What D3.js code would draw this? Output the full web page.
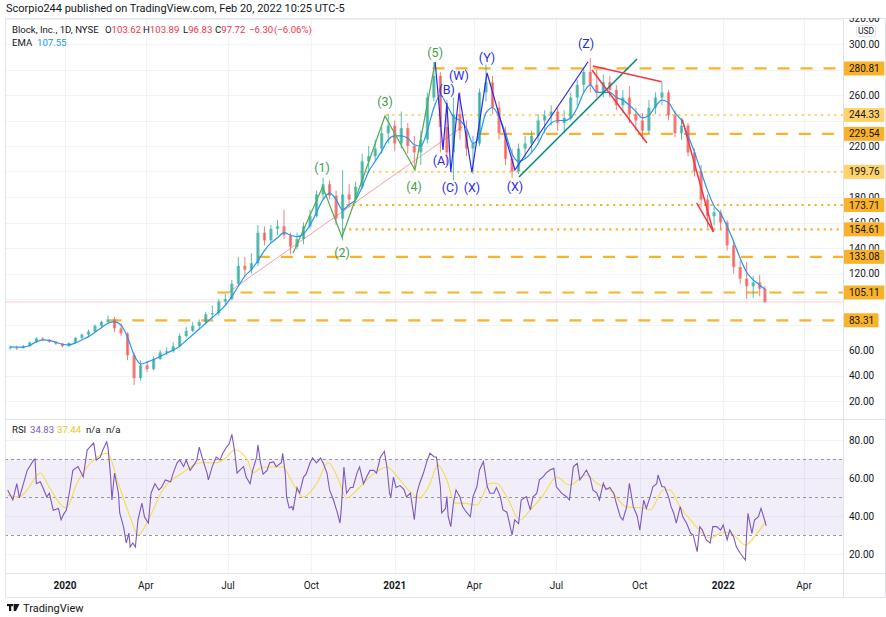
<!DOCTYPE html>
<html><head><meta charset="utf-8">
<script src="https://cdn.jsdelivr.net/npm/d3@7/dist/d3.min.js"></script>
<style>html,body{margin:0;padding:0;background:#fff;}svg{display:block;}</style>
</head><body>
<svg id="chart" width="886" height="617"></svg>
<script>
// ---------- DATA (weekly groups of 5 daily bars, bar 0 = 29 Oct 2019) ----------
const barsPerGroup = 5;
const ohlc = [
[62,63.5,60.5,62],[62,63.5,60,61.5],[61.5,64,61,63],[63,66.5,62.5,66],[66,70,65.5,69],
[69,70,67,68],[68,68.5,65.5,66.5],[66.5,67,64,65],[65,65.5,62,63],[63,66,62.5,65.5],
[65.5,70,65,69.5],[69.5,73,68.5,72],[72,76,71,74.5],[74.5,80,74,79],[79,83,78,82],
[82,87,80.5,84],[84,86,74,77],[77,81,71,73],[73,74,52,56],[56,58,32.5,38],
[38,52,36,48],[48,51,43,45],[45,55,44,53],[53,60,52,58],[58,62,56,59],
[59,66,58,63],[63,73,62,71],[71,78,70,75],[75,82,74,79],[79,84,77,82],
[82,90,81,88],[88,95,85,89],[89,100,87,98],[98,104,95,100],[100,115,99,112],
[112,133,110,126],[126,133,118,123],[123,136,120,128],[128,158,126,152],[152,157,142,146],
[146,158,144,155],[155,162,150,157],[157,170,147,150],[150,152,135,141],[141,152,139,147],
[147,160,143,157],[157,170,155,165],[165,185,164,182],[182,195,178,190],[190,193,178,181],
[181,185,158,163],[163,201,146,182],[182,190,172,178],[178,192,175,188],[188,214,186,208],
[208,220,200,212],[212,225,208,218],[218,235,214,230],[230,245,222,236],[236,240,216,222],
[222,247,218,234],[234,238,214,220],[220,228,201,215],[215,232,205,225],[225,262,222,258],
[258,286,255,275],[275,278,215,235],[235,256,205,215],[215,258,193,245],[245,262,225,232],
[232,240,212,218],[218,228,198,222],[222,265,220,262],[262,284,255,270],[270,275,245,250],
[250,255,225,230],[230,235,205,210],[210,218,195,200],[200,222,198,218],[218,228,210,222],
[222,232,215,228],[228,245,224,240],[240,248,230,244],[244,252,236,247],[247,250,232,238],
[238,248,230,242],[242,262,240,258],[258,272,252,268],[268,282,262,278],[278,289,262,268],
[268,280,258,262],[262,276,258,270],[270,275,258,264],[264,268,248,252],[252,264,246,258],
[258,267,238,245],[245,250,232,240],[240,246,225,232],[232,256,230,250],[250,262,245,258],
[258,270,252,262],[262,264,240,244],[244,248,227,230],[230,242,225,236],[236,238,212,215],
[215,218,196,200],[200,205,172,178],[178,182,156,165],[165,172,158,168],[168,170,155,160],
[160,162,138,142],[142,145,120,125],[125,130,112,116],[116,129,100,110],[110,118,101,113],
[113,119,102,108],[108,110,96.83,97.72]
];
const emaValues = [
62.5,62.2,62.3,63.5,66.5,68,67.5,66,64.5,64,65.5,68,70.5,74,77.5,81,82,79.5,70,56,
49,50.5,52.5,55,57.5,60,63,67.5,72,76.5,81,85.5,90,95,102,110,118,123,130,138,
144,148,152,150,149,151,158,168,178,183,178,170,174,178,188,200,208,216,225,228,
228,226,221,220,232,250,260,252,243,240,234,222,228,246,250,243,230,214,208,210,
215,222,232,238,240,240,242,250,262,268,262,262,262,258,256,252,247,242,244,251,
256,254,246,240,228,215,200,185,173,167,157,145,132,121,115,111,107.55
];
const rsiBars = [0,4,7,9,15,20,21,22,25,27,30,32,35,39,41,43,45,48,50,54,58,61,63,66,68,71,73,76,77,79,80,82,85,86,89,91,93,94,96,98,100,103,105,108,110,113,116,118,121,125,127,130,132,135,137,140,142,145,147,150,153,154,157,160,163,165,168,170,172,174,176,178,181,183,186,188,191,192,194,196,199,201,204,206,210,211,213,214,216,218,219,222,224,227,229,232,234,237,240,242,245,247,250,253,255,256,258,260,263,265,268,270,273,275,278,281,283,286,288,289,291,293,294,296,298,301,304,306,309,311,312,314,316,319,322,324,327,329,332,333,336,337,338,340,342,344,347,349,352,355,357,360,362,365,368,370,373,375,378,380,383,385,387,389,392,394,398,401,403,406,408,411,413,416,419,421,425,429,431,434,437,439,442,444,447,449,452,454,457,459,462,465,467,470,472,475,477,480,483,485,488,490,493,495,498,499,502,504,507,509,511,513,516,518,521,524,526,529,531,533,536,539,541,544,547,549,552,554,557,559,562,566,567,568,571,573,576,578,580,582];
const rsiValues = [53.7,48.4,57,49.5,64,69.5,70,57,58,55,50,52,43,44,38,41,43,55,64,66,60.5,74.7,76.3,78.4,69.5,71,74.7,79,76,60.5,48.4,62.6,52,41.6,34,25.8,31,23.7,25.8,23.7,38,46.8,39.5,36.3,52,57,53.7,55,59,58,62.6,68,69.5,66,69.5,64,66,69,76.3,69,62.6,59,66,71,69.5,73,76.3,78,83,74.7,62.6,64,66,60.5,57,64,71,77.4,68,62,64,68,68.5,66,68,73,62.6,50,44.2,45,43,55,52,60.5,62,68,70.5,68,70.5,68,62.6,53.7,48.4,41.6,36.3,44,65.8,52,55,55,62.6,65.8,57,60,64,64,62.6,71,73,74,65.8,52,50,60.5,55,56,54,50,52,43,38,52,57,62.6,69.5,73,71.2,71,55.4,41.6,44,50.2,39.6,34.4,46.8,53.7,50,45,42,39.6,50.2,55.4,64.2,68.6,55.4,52,52,55,50.2,43.2,42,36.3,30,38,36,48.4,50.2,43.2,50,52,59,60.7,62.6,64.2,65.1,55.4,52,50,48.4,65.9,67.7,59,62,64.2,60,53.7,52,48.4,57.2,54,55,52,46.7,39.6,37.9,45,57.2,44.9,40,32.6,48.4,44,50.2,55.4,57,61.6,55.4,55.4,50.2,44.9,41.6,36.2,44.9,39.6,36,30.9,30,21.2,34.4,32.6,27.4,25.8,34.4,34.4,32.6,35.3,27.4,32.6,29,23.9,20.4,16.8,30.9,41.4,30.9,37.9,39.6,44,39.6,34.83];
const rsiMaBars = [0,9,15,25,32,45,53,66,76,86,94,100,109,119,134,148,160,168,174,184,188,196,211,219,227,237,246,253,260,268,278,291,301,309,316,324,330,337,343,349,360,370,375,383,393,401,411,421,431,444,452,462,475,488,493,503,508,516,526,539,549,557,566,575,582];
const rsiMaValues = [51,50,53.7,62.6,55,44.2,57,69.5,73,55,39.5,30,39.5,53.7,62.6,68,68,71,74.7,69.5,62.6,65.8,65.8,57,50,57,68,60.5,49.5,53.7,60.5,65.8,59,52.6,49.5,57,66.8,59,46.8,46.8,45.8,57.2,57.2,50,37.9,43.2,51,60.5,56.3,61.6,57.2,53.7,44.7,44.2,43.2,53.7,53.7,44.7,36.3,28.4,31.6,30,24.7,31,37.44];
const priceTicks = [20,40,60,80,100,120,140,160,180,200,220,240,260,280,300,320];
const rsiTicks = [20,40,60,80];
const rsiBands = [70,50,30];
const timeTicks = [
 {label:"2020",bar:44,bold:true},{label:"Apr",bar:106},{label:"Jul",bar:169},{label:"Oct",bar:233},
 {label:"2021",bar:297,bold:true},{label:"Apr",bar:358},{label:"Jul",bar:421},{label:"Oct",bar:485},
 {label:"2022",bar:549,bold:true},{label:"Apr",bar:611}
];
const levelValues = [280.81,244.33,229.54,199.76,173.71,154.61,133.08,105.11,83.31];
const levelStartBars = [326,290,360,270,260,257,192,161,78];
const levelKinds = ["dash","dotLight","dash","dotLight","dot","dot","dash","dash","dash"];
const lastClose = 97.72;
// legend texts
const symbolText = "Block, Inc., 1D, NYSE";
const ohlcLabels = ["O","H","L","C"];
const ohlcTexts = ["103.62","103.89","96.83","97.72"];
const changeTexts = ["−6.30","(−6.06%)"];
const emaText = "107.55";
const rsiTexts = ["34.83","37.44","n/a","n/a"];
// wave annotations: [bar, price]
const greenWave = [[219,136.1],[241.7,188],[256.5,148.6],[289.5,243.5],[312.5,201.2],[328,285.9]];
const blueWave = [[328,285.9],[334,216.9],[337,253.7],[340,199.6],[346.3,261.6],[356.2,199.6],[367.8,277.3],[389.2,201.2],[445.3,286.1]];
const greenLabels = [["(1)",241.2,203.3],["(2)",256.5,136.1],["(3)",289.5,254.5],["(4)",311.8,187.8],["(5)",328,293]];
const blueLabels = [["(A)",332.5,208.2],["(B)",336.8,264.5],["(C)",339.4,187.1],["(W)",346.2,275],["(X)",356.2,187.1],["(Y)",367.8,289],["(X)",389.2,187.8],["(Z)",443.7,300]];
const tealLine = [[392.3,195.7],[482.9,288.2]];
const redLines = [
 [[448.9,282.7],[501.8,270.4]],
 [[448.3,279.6],[490.5,222.4]],
 [[517.6,240.9],[541.4,152.8]],
 [[528.6,175.3],[541.4,152.8]]
];
const pinkTrend = [[169,105],[348.6,234.9]];

(function(){
const FONT = "Roboto, 'Noto Sans', sans-serif";
const svg = d3.select("#chart").attr("font-family", FONT);
const paneL = 5, axisX = 843, frameR = 885, topY = 18, paneSep = 419, rsiBottom = 573, bottomY = 597;
const x = d3.scaleLinear().domain([0, 582]).range([7.65, 7.65 + 582 * 1.3034]);
const y = d3.scaleLinear().domain([20, 300]).range([401, 44]);
const yr = d3.scaleLinear().domain([20, 80]).range([554, 440]);
const ORANGE = "#F9B22A", ORANGE_L = "#FFD36A";
const dark = "#131722", RED = "#F23645";

svg.append("rect").attr("width",886).attr("height",617).attr("fill","#fff");

const defs = svg.append("defs");
defs.append("clipPath").attr("id","pclip").append("rect").attr("x",paneL).attr("y",topY).attr("width",axisX-paneL).attr("height",paneSep-topY);
defs.append("clipPath").attr("id","rclip").append("rect").attr("x",paneL).attr("y",paneSep).attr("width",axisX-paneL).attr("height",rsiBottom-paneSep);
const badgeH = 14;
const badgeSpans = levelValues.map(v=>[y(v)-badgeH/2, y(v)+badgeH/2]).sort((a,b)=>a[0]-b[0]);
const acp = defs.append("clipPath").attr("id","aclip");
let cur = topY;
badgeSpans.forEach(s=>{ if (s[0]>cur) acp.append("rect").attr("x",axisX).attr("y",cur).attr("width",frameR-axisX).attr("height",s[0]-cur); cur = Math.max(cur,s[1]); });
acp.append("rect").attr("x",axisX).attr("y",cur).attr("width",frameR-axisX).attr("height",paneSep-cur);

// grids
const grid = svg.append("g").attr("stroke","#F0F3FA").attr("stroke-width",1);
grid.selectAll(".hp").data(priceTicks).join("line").attr("clip-path","url(#pclip)")
  .attr("x1",paneL).attr("x2",axisX).attr("y1",d=>Math.round(y(d))+0.5).attr("y2",d=>Math.round(y(d))+0.5);
grid.selectAll(".hr").data(rsiTicks).join("line")
  .attr("x1",paneL).attr("x2",axisX).attr("y1",d=>Math.round(yr(d))+0.5).attr("y2",d=>Math.round(yr(d))+0.5);
grid.selectAll(".v").data(timeTicks).join("line")
  .attr("x1",d=>Math.round(x(d.bar))+0.5).attr("x2",d=>Math.round(x(d.bar))+0.5).attr("y1",topY).attr("y2",rsiBottom);

// RSI band
svg.append("rect").attr("x",paneL).attr("width",axisX-paneL).attr("y",yr(70)).attr("height",yr(30)-yr(70)).attr("fill","rgba(126,87,194,0.1)");
svg.append("g").selectAll("line").data(rsiBands).join("line")
  .attr("x1",paneL).attr("x2",axisX).attr("y1",d=>Math.round(yr(d))+0.5).attr("y2",d=>Math.round(yr(d))+0.5)
  .attr("stroke","#9598A1").attr("stroke-width",1).attr("stroke-dasharray","3,3");

// ---------- PRICE PANE ----------
const pg = svg.append("g").attr("clip-path","url(#pclip)");
levelValues.forEach((v,i)=>{
  const k = levelKinds[i];
  pg.append("line").attr("x1",x(levelStartBars[i])).attr("x2",axisX).attr("y1",y(v)).attr("y2",y(v))
    .attr("stroke", k==="dotLight"?ORANGE_L:ORANGE).attr("stroke-width",2.2)
    .attr("stroke-dasharray", k==="dash"?"12,11":"2.2,4.3");
});
pg.append("line").attr("x1",paneL).attr("x2",axisX).attr("y1",y(lastClose)).attr("y2",y(lastClose)).attr("stroke","rgba(242,54,69,0.25)").attr("stroke-width",1);
pg.append("line").attr("x1",x(pinkTrend[0][0])).attr("y1",y(pinkTrend[0][1])).attr("x2",x(pinkTrend[1][0])).attr("y2",y(pinkTrend[1][1]))
  .attr("stroke","#F4A0A0").attr("stroke-width",1);

const cw = 3.2;
const cg = pg.append("g");
const cxOf = i => x(i*barsPerGroup + (i===ohlc.length-1 ? 1 : 2));
ohlc.forEach((d,i)=>{
  const cx = cxOf(i);
  const up = d[3] >= d[0];
  const col = up ? "#26A69A" : "#EF5350";
  cg.append("line").attr("x1",cx).attr("x2",cx).attr("y1",y(d[1])).attr("y2",y(d[2])).attr("stroke",col).attr("stroke-width",1).attr("opacity",0.75);
  const yt = y(Math.max(d[0],d[3])), yb = y(Math.min(d[0],d[3]));
  cg.append("rect").attr("x",cx-cw/2).attr("width",cw).attr("y",yt).attr("height",Math.max(1,yb-yt)).attr("fill",col).attr("opacity",0.65);
});
pg.append("path").datum(emaValues).attr("fill","none").attr("stroke","#2196F3").attr("stroke-width",1.2)
  .attr("d", d3.line().x((d,i)=>cxOf(i)).y(d=>y(d)).curve(d3.curveMonotoneX));

const ln = d3.line().x(d=>x(d[0])).y(d=>y(d[1]));
pg.append("path").datum(greenWave).attr("d",ln).attr("fill","none").attr("stroke","#4CAF50").attr("stroke-width",1.2);
pg.append("path").datum(blueWave).attr("d",ln).attr("fill","none").attr("stroke","#2A2AE8").attr("stroke-width",1.2);
pg.append("path").datum(tealLine).attr("d",ln).attr("fill","none").attr("stroke","#00897B").attr("stroke-width",1.5);
redLines.forEach(l=>pg.append("path").datum(l).attr("d",ln).attr("fill","none").attr("stroke","#F23645").attr("stroke-width",1.5));
pg.selectAll(".gl").data(greenLabels).join("text").attr("x",d=>x(d[1])).attr("y",d=>y(d[2])).attr("dy","0.35em")
  .attr("text-anchor","middle").attr("font-size",12.5).attr("fill","#43A047").text(d=>d[0]);
pg.selectAll(".bl").data(blueLabels).join("text").attr("x",d=>x(d[1])).attr("y",d=>y(d[2])).attr("dy","0.35em")
  .attr("text-anchor","middle").attr("font-size",12.5).attr("fill","#2A2AE8").text(d=>d[0]);

// ---------- RSI PANE ----------
const rg = svg.append("g").attr("clip-path","url(#rclip)");
rg.append("path").datum(rsiMaValues.map((v,i)=>[rsiMaBars[i],v])).attr("fill","none").attr("stroke","#F5DC4A").attr("stroke-width",1.1)
  .attr("d", d3.line().x(d=>x(d[0])).y(d=>yr(d[1])).curve(d3.curveMonotoneX));
rg.append("path").datum(rsiValues.map((v,i)=>[rsiBars[i],v])).attr("fill","none").attr("stroke","#7E57C2").attr("stroke-width",1.1)
  .attr("d", d3.line().x(d=>x(d[0])).y(d=>yr(d[1])));

// ---------- FRAME ----------
const fr = svg.append("g").attr("stroke","#E0E3EB").attr("stroke-width",1).attr("fill","none");
fr.append("rect").attr("x",paneL+0.5).attr("y",topY+0.5).attr("width",frameR-paneL).attr("height",bottomY-topY);
fr.append("line").attr("x1",axisX+0.5).attr("x2",axisX+0.5).attr("y1",topY).attr("y2",bottomY);
fr.append("line").attr("x1",paneL).attr("x2",frameR).attr("y1",paneSep+0.5).attr("y2",paneSep+0.5);
fr.append("line").attr("x1",paneL).attr("x2",frameR).attr("y1",rsiBottom+0.5).attr("y2",rsiBottom+0.5);

// price axis labels: those mostly hidden behind a level badge are left out, the rest clipped by badges
const visibleTicks = priceTicks.filter(t=>levelValues.every(v=>Math.abs(y(t)-y(v))>6.8));
svg.append("g").attr("clip-path","url(#aclip)").selectAll("text").data(visibleTicks).join("text")
  .attr("x",849).attr("y",d=>y(d)).attr("dy","0.35em").attr("font-size",10).attr("fill",dark).text(d=>d.toFixed(2));
svg.append("rect").attr("x",856.5).attr("y",25.5).attr("width",19).attr("height",11).attr("rx",2).attr("fill","#fff").attr("stroke","#E0E3EB");
svg.append("text").attr("x",866).attr("y",31).attr("dy","0.35em").attr("text-anchor","middle").attr("font-size",8.5).attr("fill",dark).text("USD");
levelValues.forEach((v,i)=>{
  const t = v.toFixed(2);
  const w = t.length*5.9 + 5;
  svg.append("rect").attr("x",axisX+1).attr("y",y(v)-badgeH/2).attr("width",w).attr("height",badgeH).attr("fill",levelKinds[i]==="dotLight"?ORANGE_L:ORANGE);
  svg.append("text").attr("x",849).attr("y",y(v)).attr("dy","0.35em").attr("font-size",10).attr("fill",dark).text(t);
});
svg.append("g").selectAll("text").data(rsiTicks).join("text").attr("x",849).attr("y",d=>yr(d)).attr("dy","0.35em")
  .attr("font-size",10).attr("fill",dark).text(d=>d.toFixed(2));
svg.append("g").selectAll("text").data(timeTicks).join("text").attr("x",d=>x(d.bar)).attr("y",585).attr("dy","0.35em")
  .attr("text-anchor","middle").attr("font-size",10).attr("font-weight",d=>d.bold?"bold":"normal").attr("fill",dark).text(d=>d.label);

// ---------- TEXTS ----------
svg.append("text").attr("x",6).attr("y",12).attr("font-size",11).attr("fill",dark)
  .text("Scorpio244 published on TradingView.com, Feb 20, 2022 10:25 UTC-5");
const lg = svg.append("text").attr("y",33).attr("font-size",9.6);
lg.append("tspan").attr("x",12).attr("fill",dark).text(symbolText);
const ohlcX = [105,143,183,215];
ohlcLabels.forEach((l,i)=>{
  lg.append("tspan").attr("x",ohlcX[i]).attr("fill",dark).text(l);
  lg.append("tspan").attr("fill",RED).text(ohlcTexts[i]);
});
lg.append("tspan").attr("x",249).attr("fill",RED).text(changeTexts[0]);
lg.append("tspan").attr("x",274).attr("fill",RED).text(changeTexts[1]);
const eg = svg.append("text").attr("y",45.5).attr("font-size",9.6);
eg.append("tspan").attr("x",12).attr("fill",dark).text("EMA");
eg.append("tspan").attr("x",37).attr("fill","#2196F3").text(emaText);
const rl = svg.append("text").attr("y",433).attr("font-size",9.6);
rl.append("tspan").attr("x",12).attr("fill",dark).text("RSI");
const rsiX = [30,57,86,106], rsiCol = ["#7E57C2","#E8C520",dark,dark];
rsiTexts.forEach((t,i)=>rl.append("tspan").attr("x",rsiX[i]).attr("fill",rsiCol[i]).text(t));

const lgo = svg.append("g").attr("fill",dark);
lgo.append("rect").attr("x",7).attr("y",604).attr("width",6).attr("height",2.2);
lgo.append("rect").attr("x",9).attr("y",604).attr("width",2.2).attr("height",7);
lgo.append("path").attr("d","M13.5 604 L19.5 604 L16 611 L13.8 611 Z");
svg.append("text").attr("x",23).attr("y",611.5).attr("font-size",11).attr("fill",dark).text("TradingView");
})();
</script></body></html>
